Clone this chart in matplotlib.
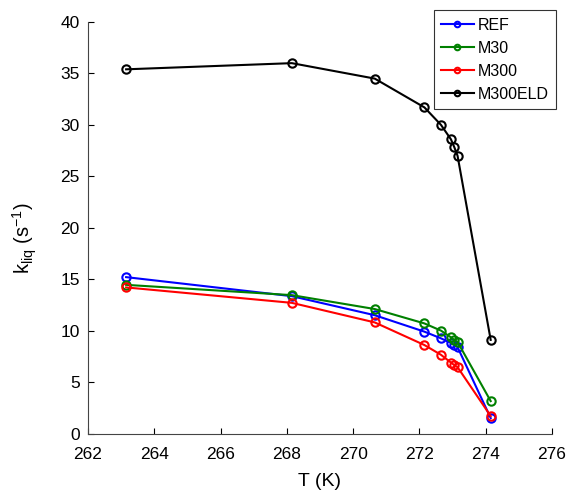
import numpy as np
import matplotlib
matplotlib.use('Agg')
import matplotlib.pyplot as plt

plt.rcParams['font.family'] = ['Liberation Sans', 'DejaVu Sans']
plt.rcParams['mathtext.fontset'] = 'custom'
plt.rcParams['mathtext.rm'] = 'Liberation Sans'
plt.rcParams['mathtext.it'] = 'Liberation Sans:italic'

# temperatures (K)
T = [263.15, 268.15, 270.65, 272.15, 272.65, 272.95, 273.05, 273.15, 274.15]

k_ref = [15.2, 13.35, 11.5, 9.9, 9.25, 8.8, 8.6, 8.4, 1.5]
k_m30 = [14.45, 13.45, 12.1, 10.7, 10.0, 9.35, 9.1, 8.9, 3.15]
k_m300 = [14.2, 12.7, 10.8, 8.6, 7.65, 6.9, 6.65, 6.45, 1.7]
k_m300eld = [35.4, 36.0, 34.5, 31.7, 30.0, 28.6, 27.85, 27.0, 9.1]

series = [('REF', k_ref, (0, 0, 1)),
          ('M30', k_m30, (0, 0.5, 0)),
          ('M300', k_m300, (1, 0, 0)),
          ('M300ELD', k_m300eld, (0, 0, 0))]

fig = plt.figure(figsize=(5.68, 4.94), dpi=100)
ax = fig.add_axes([88/568., 1 - 433.5/494., (552-88)/568., (433.5-22)/494.])

for name, k, c in series:
    ax.plot(T, k, '-o', color=c, lw=1.5, ms=6, mew=1.5, mfc='none', label=name)

ax.set_xlim(262, 276)
ax.set_ylim(0, 40)
ax.set_xticks(np.arange(262, 277, 2))
ax.set_yticks(np.arange(0, 41, 5))
ax.tick_params(direction='in', length=4, width=0.8, labelsize=12.5)
ax.tick_params(axis='x', pad=10)
ax.tick_params(axis='y', pad=6)
for s in ['top', 'right']:
    ax.spines[s].set_visible(False)
for s in ['left', 'bottom']:
    ax.spines[s].set_color('#444444')

ax.set_xlabel('T (K)', fontsize=14)
ax.xaxis.set_label_coords((320 - 88) / 464., -(481 - 433.5) / 411.5)
ax.xaxis.label.set_va('center')
ax.set_ylabel(r'k$_{\mathrm{liq}}$ (s$^{\mathrm{-1}}$)', fontsize=14.5)
ax.yaxis.set_label_coords(-(88 - 25) / 464., (433.5 - 238) / 411.5)
ax.yaxis.label.set_va('center')

leg = ax.legend(loc='upper right', bbox_to_anchor=(556/568., 1 - 10.5/494.),
                bbox_transform=fig.transFigure, fontsize=11.5, frameon=True,
                fancybox=False, edgecolor='black', borderpad=0.45,
                handlelength=2.05, handletextpad=0.25, labelspacing=0.5,
                borderaxespad=0)
leg.get_frame().set_linewidth(0.8)
for h in leg.legend_handles:
    h.set_markersize(4)

fig.savefig('out.png', dpi=100)
